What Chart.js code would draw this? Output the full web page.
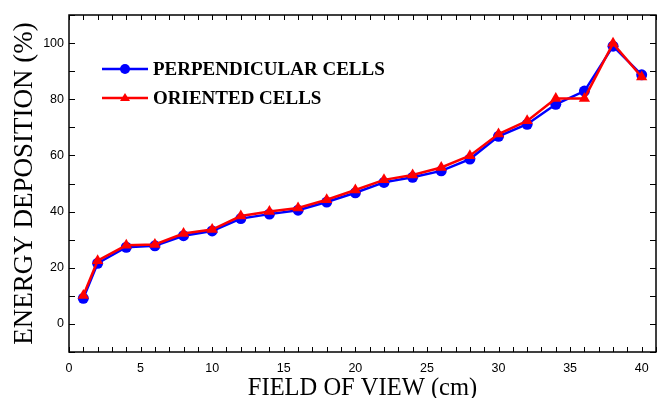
<!DOCTYPE html>
<html>
<head>
<meta charset="utf-8">
<script src="https://cdn.jsdelivr.net/npm/chart.js@4"></script>
<style>
html, body { margin: 0; padding: 0; background: #fff; }
#wrap { width: 664px; height: 398px; }
</style>
</head>
<body>
<div id="wrap"><canvas id="chart"></canvas></div>
<script>
// Field of view (cm)
const fieldOfView = [1, 2, 4, 6, 8, 10, 12, 14, 16, 18, 20, 22, 24, 26, 28, 30, 32, 34, 36, 38, 40];
// Energy deposition (%)
const perpendicularCells = [9.1, 21.6, 27.3, 27.8, 31.4, 33.1, 37.5, 39.1, 40.5, 43.4, 46.7, 50.4, 52.2, 54.5, 58.7, 66.8, 71.1, 78.2, 82.9, 98.9, 88.7];
const orientedCells = [10.1, 22.5, 28.0, 28.3, 32.2, 33.6, 38.4, 40.0, 41.3, 44.2, 47.7, 51.3, 53.0, 55.7, 59.9, 67.6, 72.3, 80.3, 80.3, 99.9, 87.9];
const xTickLabels = [0, 5, 10, 15, 20, 25, 30, 35, 40];
const yTickLabels = [0, 20, 40, 60, 80, 100];

const toPoints = values => values.map((v, i) => ({ x: fieldOfView[i], y: v }));

// Frame with inward ticks on all four sides, plus the legend box
const framePlugin = {
    id: 'frame',
    afterDraw(chart) {
        const ctx = chart.ctx;
        const area = chart.chartArea;
        const xs = chart.scales.x;
        const ys = chart.scales.y;
        ctx.save();
        ctx.strokeStyle = '#000';
        ctx.lineWidth = 1.5;
        ctx.strokeRect(area.left, area.top, area.right - area.left, area.bottom - area.top);

        ctx.lineWidth = 1;
        ctx.beginPath();
        for (let v = Math.ceil(xs.min); v <= xs.max; v++) {
            const px = Math.round(xs.getPixelForValue(v)) + 0.5;
            ctx.moveTo(px, area.bottom);
            ctx.lineTo(px, area.bottom - 5);
            ctx.moveTo(px, area.top);
            ctx.lineTo(px, area.top + 5);
        }
        for (let v = ys.min; v <= ys.max; v += 10) {
            const py = Math.round(ys.getPixelForValue(v)) + 0.5;
            ctx.moveTo(area.left, py);
            ctx.lineTo(area.left + 6, py);
            ctx.moveTo(area.right, py);
            ctx.lineTo(area.right - 6, py);
        }
        ctx.stroke();

        // Legend
        const items = [chart.data.datasets[1], chart.data.datasets[0]];
        const lx = area.left + 33;
        let ly = area.top + 54;
        ctx.font = 'bold 19px "Liberation Serif", "Times New Roman", serif';
        ctx.textBaseline = 'middle';
        ctx.textAlign = 'left';
        items.forEach(ds => {
            ctx.strokeStyle = ds.borderColor;
            ctx.fillStyle = ds.backgroundColor;
            ctx.lineWidth = 2.5;
            ctx.beginPath();
            ctx.moveTo(lx, ly);
            ctx.lineTo(lx + 46, ly);
            ctx.stroke();
            ctx.beginPath();
            if (ds.pointStyle === 'triangle') {
                ctx.moveTo(lx + 23, ly - 5);
                ctx.lineTo(lx + 28, ly + 3);
                ctx.lineTo(lx + 18, ly + 3);
                ctx.closePath();
            } else {
                ctx.arc(lx + 23, ly, 5, 0, Math.PI * 2);
            }
            ctx.fill();
            ctx.fillStyle = '#000';
            ctx.fillText(ds.label, lx + 51, ly + 1);
            ly += 29;
        });
        ctx.restore();
    }
};

const ctx = document.getElementById('chart').getContext('2d');
new Chart(ctx, {
    type: 'line',
    data: {
        datasets: [
            {
                label: 'ORIENTED CELLS',
                data: toPoints(orientedCells),
                borderColor: '#ff0000',
                backgroundColor: '#ff0000',
                borderWidth: 2.5,
                pointStyle: 'triangle',
                pointRadius: 6.5,
                pointBorderWidth: 0,
                order: 0
            },
            {
                label: 'PERPENDICULAR CELLS',
                data: toPoints(perpendicularCells),
                borderColor: '#0000ff',
                backgroundColor: '#0000ff',
                borderWidth: 2.5,
                pointStyle: 'circle',
                pointRadius: 5.5,
                pointBorderWidth: 0,
                order: 1
            }
        ]
    },
    options: {
        responsive: true,
        maintainAspectRatio: false,
        animation: false,
        layout: { padding: { top: 15, right: 8, left: 0, bottom: 0 } },
        plugins: {
            legend: { display: false },
            tooltip: { enabled: false }
        },
        scales: {
            x: {
                type: 'linear',
                min: 0,
                max: 41,
                grid: { display: false, drawTicks: false },
                border: { display: false },
                afterBuildTicks: axis => { axis.ticks = xTickLabels.map(v => ({ value: v })); },
                afterFit: axis => { axis.height = 46; },
                ticks: {
                    padding: 9,
                    maxRotation: 0,
                    color: '#000',
                    font: { family: '"Liberation Sans", Arial, sans-serif', size: 12.5 }
                },
                title: {
                    display: true,
                    text: 'FIELD OF VIEW (cm)',
                    color: '#000',
                    padding: { top: 0, bottom: -5 },
                    font: { family: '"Liberation Serif", "Times New Roman", serif', size: 24.5 }
                }
            },
            y: {
                min: -10,
                max: 110,
                grid: { display: false, drawTicks: false },
                border: { display: false },
                afterBuildTicks: axis => { axis.ticks = yTickLabels.map(v => ({ value: v })); },
                afterFit: axis => { axis.width = 69; },
                ticks: {
                    padding: 5,
                    color: '#000',
                    font: { family: '"Liberation Sans", Arial, sans-serif', size: 12.5 }
                },
                title: {
                    display: true,
                    text: 'ENERGY DEPOSITION (%)',
                    color: '#000',
                    padding: { top: 9, bottom: 0 },
                    font: { family: '"Liberation Serif", "Times New Roman", serif', size: 27 }
                }
            }
        }
    },
    plugins: [framePlugin]
});
</script>
</body>
</html>
